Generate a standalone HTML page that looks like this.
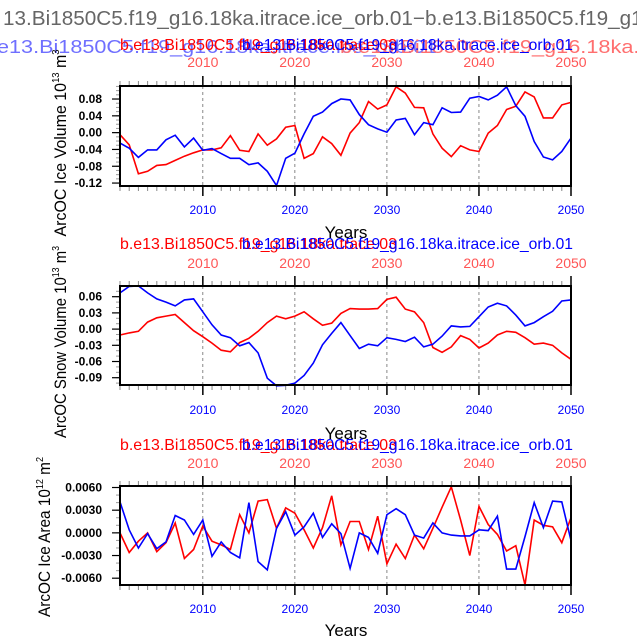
<!DOCTYPE html>
<html><head><meta charset="utf-8"><style>
html,body{margin:0;padding:0;background:#fff;}
svg{display:block;font-family:"Liberation Sans",sans-serif;}
</style></head><body>
<svg id="chart" width="637" height="637" viewBox="0 0 637 637">
<text x="3" y="25" font-size="20" fill="#666" textLength="680" lengthAdjust="spacingAndGlyphs">13.Bi1850C5.f19_g16.18ka.itrace.ice_orb.01−b.e13.Bi1850C5.f19_g16.18</text>
<text x="-3" y="53" font-size="18" fill="#6f6fff" textLength="440" lengthAdjust="spacingAndGlyphs">e13.Bi1850C5.f19_g16.18ka.itrace.ice_orb.01</text>
<text x="340" y="53" font-size="18" fill="#ff6f6f" textLength="460" lengthAdjust="spacingAndGlyphs">b.e13.Bi1850C5.f19_g16.18ka.itrace.ice_orb.01</text>
<g id="panels"></g>
</svg>
<script>
const years = [];for(let y=2001;y<=2050;y++)years.push(y);
const xTicks = [2010,2020,2030,2040,2050];
const iceVolRed = [-0.005,-0.029,-0.098,-0.092,-0.078,-0.076,-0.066,-0.056,-0.048,-0.041,-0.041,-0.036,-0.007,-0.042,-0.045,-0.003,-0.030,-0.015,0.013,0.017,-0.061,-0.050,-0.010,-0.026,-0.054,-0.001,0.024,0.074,0.056,0.066,0.109,0.094,0.060,0.059,-0.003,-0.037,-0.057,-0.031,-0.041,-0.045,-0.001,0.017,0.055,0.063,0.097,0.085,0.035,0.035,0.066,0.072];
const iceVolBlue = [-0.025,-0.037,-0.059,-0.041,-0.041,-0.017,-0.006,-0.034,-0.013,-0.042,-0.038,-0.050,-0.061,-0.061,-0.076,-0.072,-0.092,-0.126,-0.061,-0.049,-0.003,0.039,0.049,0.069,0.080,0.078,0.043,0.019,0.009,0.001,0.030,0.034,-0.005,0.024,0.019,0.059,0.048,0.049,0.082,0.086,0.078,0.089,0.109,0.064,0.039,-0.021,-0.058,-0.065,-0.045,-0.013];
const snowRed = [-0.011,-0.007,-0.004,0.013,0.021,0.024,0.027,0.012,-0.003,-0.014,-0.026,-0.039,-0.042,-0.025,-0.017,-0.004,0.012,0.024,0.019,0.024,0.032,0.019,0.007,0.011,0.029,0.038,0.037,0.037,0.038,0.055,0.059,0.037,0.032,0.012,-0.034,-0.043,-0.033,-0.012,-0.019,-0.035,-0.026,-0.011,-0.004,-0.006,-0.016,-0.028,-0.026,-0.030,-0.044,-0.056];
const snowBlue = [0.067,0.079,0.080,0.067,0.056,0.050,0.043,0.054,0.056,0.032,0.008,-0.011,-0.016,-0.031,-0.025,-0.044,-0.091,-0.105,-0.104,-0.100,-0.086,-0.063,-0.029,-0.008,0.012,-0.012,-0.036,-0.028,-0.031,-0.016,-0.019,-0.023,-0.015,-0.033,-0.028,-0.013,0.006,0.004,0.005,0.023,0.041,0.048,0.043,0.026,0.006,0.012,0.023,0.033,0.052,0.054];
const areaRed = [0.0000,-0.0026,-0.0011,0.0000,-0.0025,-0.0013,0.0013,-0.0034,-0.0022,0.0009,-0.0011,-0.0016,-0.0022,0.0024,0.0000,0.0042,0.0044,0.0006,0.0033,0.0026,0.0004,-0.0020,0.0007,0.0049,-0.0016,0.0015,0.0015,-0.0022,0.0022,-0.0041,-0.0015,-0.0034,-0.0003,-0.0021,0.0006,0.0034,0.0061,0.0017,-0.0030,0.0035,0.0011,-0.0002,-0.0024,-0.0017,-0.0069,0.0017,0.0010,0.0008,-0.0013,0.0020];
const areaBlue = [0.0041,0.0004,-0.0020,-0.0001,-0.0021,-0.0012,0.0023,0.0017,-0.0002,0.0017,-0.0031,-0.0012,-0.0026,-0.0033,0.0040,-0.0038,-0.0049,0.0006,0.0028,-0.0003,0.0008,0.0026,-0.0006,0.0012,-0.0001,-0.0047,0.0000,-0.0006,-0.0027,0.0024,0.0032,0.0024,-0.0003,-0.0007,0.0013,0.0000,-0.0003,-0.0004,-0.0004,0.0004,0.0003,0.0022,-0.0048,-0.0048,-0.0005,0.0040,0.0007,0.0042,0.0041,-0.0010];
const iceVolTicks = [-0.12,-0.08,-0.04,0.00,0.04,0.08];
const snowTicks = [-0.09,-0.06,-0.03,0.00,0.03,0.06];
const areaTicks = [-0.006,-0.003,0,0.003,0.006];

const NS='http://www.w3.org/2000/svg';
const root=document.getElementById('panels');
function mk(tag,attrs,parent,text){const e=document.createElementNS(NS,tag);for(const k in attrs)e.setAttribute(k,attrs[k]);if(text!==undefined)e.textContent=text;(parent||root).appendChild(e);return e;}
const X0=120,X1=571;
function xs(y){return X0+(y-2001)*(X1-X0)/49;}

const panels=[
 {name:'ice-volume',top:86,bot:186,min:-0.127,max:0.111,red:iceVolRed,blue:iceVolBlue,ticks:iceVolTicks,dec:2,minorStep:0.01,
  ttl:44,topLab:62,botLab:210,years:232,ylab:['ArcOC Ice Volume 10','13',' m','3'],ylx:66,yly:143,ylen:187},
 {name:'snow-volume',top:286,bot:385,min:-0.1035,max:0.0798,red:snowRed,blue:snowBlue,ticks:snowTicks,dec:2,minorStep:0.01,
  ttl:243,topLab:263,botLab:410,years:433,ylab:['ArcOC Snow Volume 10','13',' m','3'],ylx:66,yly:342,ylen:192},
 {name:'ice-area',top:486,bot:585,min:-0.0069,max:0.0062,red:areaRed,blue:areaBlue,ticks:areaTicks,dec:4,minorStep:0.001,
  ttl:444,topLab:463,botLab:609,years:630,ylab:['ArcOC Ice Area 10','12',' m','2'],ylx:50,yly:537,ylen:160}
];
panels.forEach(p=>{
 const g=mk('g',{});
 
 
 const ys=v=>p.bot-(v-p.min)/(p.max-p.min)*(p.bot-p.top);
 const t1=mk('text',{x:120,y:p.ttl+6,'font-size':16,fill:'#f00',textLength:277,lengthAdjust:'spacingAndGlyphs'},g,'b.e13.Bi1850C5.f19_g16.18ka.trace.03');
 
 
 const t2=mk('text',{x:242,y:p.ttl+6,'font-size':16,fill:'#00f',textLength:331,lengthAdjust:'spacingAndGlyphs'},g,'b.e13.Bi1850C5.f19_g16.18ka.itrace.ice_orb.01');
 
 
 xTicks.forEach(t=>{
  if(t<2050){const l=mk('line',{x1:xs(t),x2:xs(t),y1:p.top,y2:p.bot,stroke:'#555','stroke-width':0.7,'stroke-dasharray':'3,3'},g);
  
  }
  const a=mk('text',{x:xs(t),y:p.topLab+5,'font-size':14,fill:'#f55','text-anchor':'middle'},g,String(t));
  
  
  const b=mk('text',{x:xs(t),y:p.botLab+4,'font-size':12,fill:'#00f','text-anchor':'middle'},g,String(t));
  
  
  mk('line',{x1:xs(t),x2:xs(t),y1:p.top-10,y2:p.top,stroke:'#000','stroke-width':1.5},g);
  mk('line',{x1:xs(t),x2:xs(t),y1:p.bot,y2:p.bot+10,stroke:'#000','stroke-width':1.5},g);
 });
 years.forEach(y=>{if(y%10!==0){
  mk('line',{x1:xs(y),x2:xs(y),y1:p.top-5,y2:p.top,stroke:'#888','stroke-width':1},g);
  mk('line',{x1:xs(y),x2:xs(y),y1:p.bot,y2:p.bot+5,stroke:'#888','stroke-width':1},g);}});
 for(let v=Math.ceil(p.min/p.minorStep)*p.minorStep;v<=p.max;v+=p.minorStep){
  mk('line',{x1:X0-4,x2:X0,y1:ys(v),y2:ys(v),stroke:'#999','stroke-width':1},g);}
 p.ticks.forEach(v=>{
  mk('line',{x1:X0-8,x2:X0,y1:ys(v),y2:ys(v),stroke:'#000','stroke-width':1.2},g);
  const tl=mk('text',{x:X0-18,y:ys(v)+4,'font-size':12,fill:'#000','text-anchor':'end','font-weight':'bold'},g,v.toFixed(p.dec));
  
  
 });
 [[p.red,'#f00','red'],[p.blue,'#00f','blue']].forEach(([arr,c,nm])=>{
  const pts=arr.map((v,i)=>xs(years[i]).toFixed(1)+','+ys(v).toFixed(1)).join(' ');
  const pl=mk('polyline',{points:pts,fill:'none',stroke:c,'stroke-width':1.6},g);
  
  
 });
 const fr=mk('rect',{x:X0,y:p.top,width:X1-X0,height:p.bot-p.top,fill:'none',stroke:'#000','stroke-width':2},g);
 
 
 const yr=mk('text',{x:346,y:p.years+6,'font-size':17,fill:'#000','text-anchor':'middle'},g,'Years');
 
 
 const yt=mk('text',{x:0,y:0,'font-size':17,fill:'#000','text-anchor':'middle',textLength:p.ylen,lengthAdjust:'spacingAndGlyphs',transform:`translate(${p.ylx},${p.yly}) rotate(-90)`},g);
 
 
 mk('tspan',{},yt,p.ylab[0]);
 mk('tspan',{dy:-7,'font-size':10},yt,p.ylab[1]);
 mk('tspan',{dy:7},yt,p.ylab[2]);
 mk('tspan',{dy:-7,'font-size':10},yt,p.ylab[3]);
});
</script>
</body></html>
